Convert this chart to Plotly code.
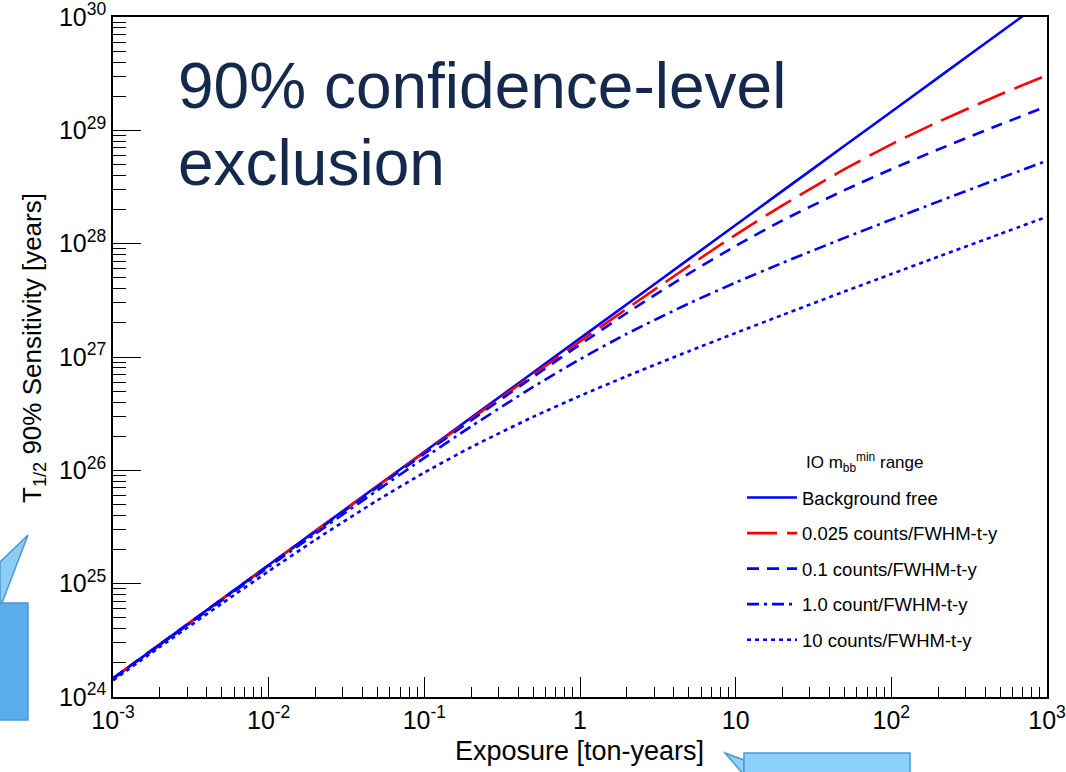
import plotly.graph_objects as go

# ---------------- data ----------------
exposure = [1e-3, 2e-3, 5e-3, 1e-2, 2e-2, 5e-2, 0.1, 0.2, 0.5, 1, 2, 5,
            10, 20, 50, 100, 200, 500, 1000]

bg_free = [1.46e24, 2.92e24, 7.3e24, 1.46e25, 2.92e25, 7.3e25, 1.46e26, 2.92e26,
           7.3e26, 1.46e27, 2.92e27, 7.3e27, 1.46e28, 2.92e28, 7.3e28, 1.46e29,
           2.92e29, 7.3e29, 1.46e30]

bkg_0025 = [1.462e24, 2.92e24, 7.29e24, 1.455e25, 2.91e25, 7.24e25, 1.435e26, 2.844e26,
            6.98e26, 1.371e27, 2.667e27, 6.35e27, 1.197e28, 2.178e28, 4.54e28, 7.53e28,
            1.186e29, 2.07e29, 3.07e29]

bkg_01 = [1.462e24, 2.917e24, 7.278e24, 1.452e25, 2.881e25, 7.112e25, 1.403e26, 2.761e26,
          6.668e26, 1.288e27, 2.443e27, 5.445e27, 9.55e27, 1.603e28, 2.965e28, 4.539e28,
          6.776e28, 1.125e29, 1.629e29]

bkg_1 = [1.452e24, 2.881e24, 7.112e24, 1.403e25, 2.761e25, 6.668e25, 1.288e26, 2.443e26,
         5.445e26, 9.55e26, 1.603e27, 2.965e27, 4.539e27, 6.776e27, 1.125e28, 1.629e28,
         2.35e28, 3.784e28, 5.395e28]

bkg_10 = [1.403e24, 2.761e24, 6.668e24, 1.288e25, 2.443e25, 5.445e25, 9.55e25, 1.603e26,
          2.965e26, 4.539e26, 6.776e26, 1.125e27, 1.629e27, 2.35e27, 3.784e27, 5.395e27,
          7.674e27, 1.219e28, 1.726e28]

series_names = ["Background free", "0.025 counts/FWHM-t-y", "0.1 counts/FWHM-t-y",
                "1.0 count/FWHM-t-y", "10 counts/FWHM-t-y"]

x_tickvals = [1e-3, 1e-2, 1e-1, 1, 10, 100, 1000]
x_ticktext = ["10<sup>-3</sup>", "10<sup>-2</sup>", "10<sup>-1</sup>", "1", "10",
              "10<sup>2</sup>", "10<sup>3</sup>"]
y_tickvals = [1e24, 1e25, 1e26, 1e27, 1e28, 1e29, 1e30]
y_ticktext = ["10<sup>24</sup>", "10<sup>25</sup>", "10<sup>26</sup>", "10<sup>27</sup>",
              "10<sup>28</sup>", "10<sup>29</sup>", "10<sup>30</sup>"]

# ---------------- figure ----------------
FONT = "Liberation Sans, Arial, Helvetica, sans-serif"
W, H = 1066, 772
L, R, T, B = 113, 19, 17, 75
pw, ph = W - L - R, H - T - B


def px(x):
    return (x - L) / pw


def py(y):
    return (H - B - y) / ph


fig = go.Figure()
styles = [
    dict(color="#0000ff", dash="solid"),
    dict(color="#ff0000", dash="30px,10px"),
    dict(color="#0000ff", dash="12px,8px"),
    dict(color="#0000ff", dash="12px,5px,3px,5px"),
    dict(color="#0000ff", dash="4px,4px"),
]
for i, (name, ys) in enumerate(zip(series_names,
                                   [bg_free, bkg_0025, bkg_01, bkg_1, bkg_10])):
    fig.add_trace(go.Scatter(
        x=exposure, y=ys, mode="lines", name=name, legendgroup=f"g{i}",
        line=dict(color=styles[i]["color"], dash=styles[i]["dash"], width=2.6,
                  shape="spline", smoothing=0.6),
    ))

minor_x = [float(m) * 10.0 ** e for e in range(-3, 3) for m in range(2, 10)]
minor_y = [float(m) * 10.0 ** e for e in range(24, 30) for m in range(2, 10)]

fig.update_xaxes(
    type="log", range=[-3, 3], tickmode="array", tickvals=x_tickvals,
    ticktext=x_ticktext, ticks="inside", ticklen=20, tickwidth=1.2,
    tickcolor="black", showline=True, linecolor="black", linewidth=1.5,
    mirror=True, showgrid=False, zeroline=False, automargin=False,
    ticklabeloverflow="allow",
    tickfont=dict(family=FONT, size=25, color="black"),
    minor=dict(tickmode="array", tickvals=minor_x, ticks="inside", ticklen=10,
               tickwidth=1, tickcolor="black", showgrid=False),
)
fig.update_yaxes(
    type="log", range=[24, 30], tickmode="array", tickvals=y_tickvals,
    ticktext=y_ticktext, ticks="inside", ticklen=28, tickwidth=1.2,
    tickcolor="black", showline=True, linecolor="black", linewidth=1.5,
    mirror=True, showgrid=False, zeroline=False, automargin=False,
    ticklabeloverflow="allow",
    tickfont=dict(family=FONT, size=25, color="black"),
    minor=dict(tickmode="array", tickvals=minor_y, ticks="inside", ticklen=13,
               tickwidth=1, tickcolor="black", showgrid=False),
)

annotations = [
    dict(text="90% confidence-level", x=px(176), y=py(86), xref="paper", yref="paper",
         xanchor="left", yanchor="middle", showarrow=False,
         font=dict(family=FONT, size=64, color="#14294b")),
    dict(text="exclusion", x=px(176), y=py(163), xref="paper", yref="paper",
         xanchor="left", yanchor="middle", showarrow=False,
         font=dict(family=FONT, size=64, color="#14294b")),
    dict(text="Exposure [ton-years]", x=px(579), y=py(751), xref="paper", yref="paper",
         xanchor="center", yanchor="middle", showarrow=False,
         font=dict(family=FONT, size=27, color="black")),
    dict(text="T<sub>1/2</sub> 90% Sensitivity [years]", x=px(33), y=py(348),
         xref="paper", yref="paper", xanchor="center", yanchor="middle",
         textangle=-90, showarrow=False,
         font=dict(family=FONT, size=26, color="black")),
    dict(text="IO m<sub>bb</sub><sup>min</sup> range", x=px(864), y=py(462),
         xref="paper", yref="paper", xanchor="center", yanchor="middle",
         showarrow=False, font=dict(family=FONT, size=17, color="black")),
]


def path(points):
    s = "M " + " L ".join(f"{px(a):.5f},{py(b):.5f}" for a, b in points) + " Z"
    return s


shapes = [
    # left callout
    dict(type="path", xref="paper", yref="paper", layer="above",
         path=path([(0, 603), (2, 603), (28, 535), (0, 562)]),
         fillcolor="#8ccdf6", line=dict(color="#4a97d6", width=1.5)),
    dict(type="path", xref="paper", yref="paper", layer="above",
         path=path([(-5, 603), (28, 603), (28, 720), (-5, 720)]),
         fillcolor="#5aaee9", line=dict(color="#4a97d6", width=1.5)),
    # bottom callout
    dict(type="path", xref="paper", yref="paper", layer="above",
         path=path([(744, 760), (725, 753), (744, 775)]),
         fillcolor="#8dd0fb", line=dict(color="#4a97d6", width=1.5)),
    dict(type="path", xref="paper", yref="paper", layer="above",
         path=path([(744, 753), (910, 753), (910, 780), (744, 780)]),
         fillcolor="#8dd0fb", line=dict(color="#4a97d6", width=1.5)),
]

fig.update_layout(
    width=W, height=H, margin=dict(l=L, r=R, t=T, b=B, autoexpand=False),
    paper_bgcolor="white", plot_bgcolor="white",
    font=dict(family=FONT, color="black"),
    annotations=annotations, shapes=shapes,
    showlegend=True,
    legend=dict(
        x=px(742), y=py(479), xanchor="left", yanchor="top",
        bgcolor="rgba(0,0,0,0)", borderwidth=0,
        font=dict(family=FONT, size=18.5, color="black"),
        traceorder="grouped", tracegroupgap=8.5, itemwidth=50,
    ),
)

fig.write_html("out.html")
